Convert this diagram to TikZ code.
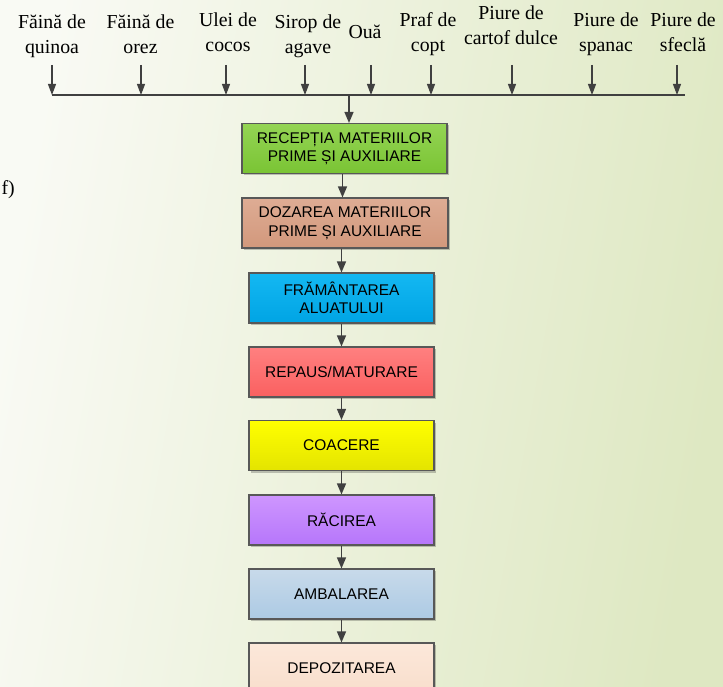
\documentclass[tikz,border=0pt]{standalone}
\usepackage{fontspec}
\setmainfont{Liberation Serif}
\newfontfamily\boxfont{Liberation Sans}
\usetikzlibrary{arrows.meta,shadows}

\definecolor{bgL}{RGB}{249,250,244}
\definecolor{bgR}{RGB}{222,232,194}
\definecolor{lineg}{RGB}{64,64,64}
\definecolor{boxline}{RGB}{88,88,88}
\definecolor{grT}{RGB}{148,212,84}\definecolor{grB}{RGB}{122,196,52}
\definecolor{brT}{RGB}{222,172,148}\definecolor{brB}{RGB}{210,152,124}
\definecolor{blT}{RGB}{20,184,242}\definecolor{blB}{RGB}{0,164,228}
\definecolor{rdT}{RGB}{255,128,128}\definecolor{rdB}{RGB}{250,96,96}
\definecolor{yeT}{RGB}{255,255,0}\definecolor{yeB}{RGB}{228,228,0}
\definecolor{puT}{RGB}{206,150,255}\definecolor{puB}{RGB}{182,118,250}
\definecolor{lbT}{RGB}{200,218,234}\definecolor{lbB}{RGB}{172,202,228}
\definecolor{peT}{RGB}{252,232,218}\definecolor{peB}{RGB}{248,222,204}

\begin{document}
\begin{tikzpicture}[x=1pt,y=-1pt,
  flow/.style={draw=lineg, line width=1.3pt, -{Triangle[length=11pt,width=9pt]}},
  feed/.style={draw=lineg, line width=1.1pt, -{Triangle[length=11pt,width=8pt]}},
  proc/.style={draw=boxline, line width=1.1pt, minimum height=50pt, align=center,
    inner sep=0pt, font=\boxfont\fontsize{15.5}{18.5}\selectfont,
    drop shadow={shadow xshift=2pt, shadow yshift=-2pt, opacity=0.22, fill=black}},
  lbl/.style={align=center, inner sep=0pt, font=\fontsize{19.8}{25}\selectfont},
]
\useasboundingbox (0,0) rectangle (723,687);
\clip (0,0) rectangle (723,687);
\shade[left color=bgL, right color=bgR, shading angle=80] (0,0) rectangle (723,687);

% raw material labels
\node[lbl] (l1) at (52,36.5)  {\strut Făină de\\quinoa\strut};
\node[lbl] (l2) at (140.5,36.5) {\strut Făină de\\orez\strut};
\node[lbl] (l3) at (228,34.5) {\strut Ulei de\\cocos\strut};
\node[lbl] (l4) at (308,36.5) {\strut Sirop de\\agave\strut};
\node[lbl] (l5) at (365,34)   {\strut Ouă\strut};
\node[lbl] (l6) at (428,34.5) {\strut Praf de\\copt\strut};
\node[lbl] (l7) at (511,27.5) {\strut Piure de\\cartof dulce\strut};
\node[lbl] (l8) at (606,34.5) {\strut Piure de\\spanac\strut};
\node[lbl] (l9) at (683,34.5) {\strut Piure de\\sfeclă\strut};

\node[lbl, anchor=base east] (tag) at (15,195) {f)};

% collecting line
\coordinate (busW) at (52,95);
\coordinate (busE) at (685,95);
\draw[draw=lineg, line width=1.2pt] (busW) -- (busE);

\foreach \n/\x in {1/52,2/141,3/226,4/305,5/371,6/431,7/512,8/592,9/677}{
  \coordinate (in\n) at (\x,65);
  \draw[feed] (in\n) -- (in\n |- busW);
}

% process steps
\node[proc, minimum width=205pt, top color=grT, bottom color=grB] (b1) at (344.5,148.5)
  {RECEPȚIA MATERIILOR\\PRIME ȘI AUXILIARE};
\node[proc, minimum width=206pt, top color=brT, bottom color=brB] (b2) at (345,223)
  {DOZAREA MATERIILOR\\PRIME ȘI AUXILIARE};
\node[proc, minimum width=185pt, top color=blT, bottom color=blB] (b3) at (341.5,298)
  {FRĂMÂNTAREA\\ALUATULUI};
\node[proc, minimum width=185pt, top color=rdT, bottom color=rdB] (b4) at (341.5,372)
  {REPAUS/MATURARE};
\node[proc, minimum width=185pt, top color=yeT, bottom color=yeB] (b5) at (341.5,445.5)
  {COACERE};
\node[proc, minimum width=185pt, top color=puT, bottom color=puB] (b6) at (341.5,520)
  {RĂCIREA};
\node[proc, minimum width=185pt, top color=lbT, bottom color=lbB] (b7) at (341.5,594)
  {AMBALAREA};
\node[proc, minimum width=185pt, top color=peT, bottom color=peB] (b8) at (341.5,668)
  {DEPOZITAREA};

% connectors
\coordinate (hub) at (349,95);
\draw[flow] (hub) -- (hub |- b1.north);
\draw[flow] ([xshift=-2pt]b1.south) -- ([xshift=-2pt]b1.south |- b2.north);
\draw[flow] (b3.north |- b2.south) -- (b3.north);
\draw[flow] (b3.south) -- (b4.north);
\draw[flow] (b4.south) -- (b5.north);
\draw[flow] (b5.south) -- (b6.north);
\draw[flow] (b6.south) -- (b7.north);
\draw[flow] (b7.south) -- (b8.north);
\end{tikzpicture}
\end{document}
